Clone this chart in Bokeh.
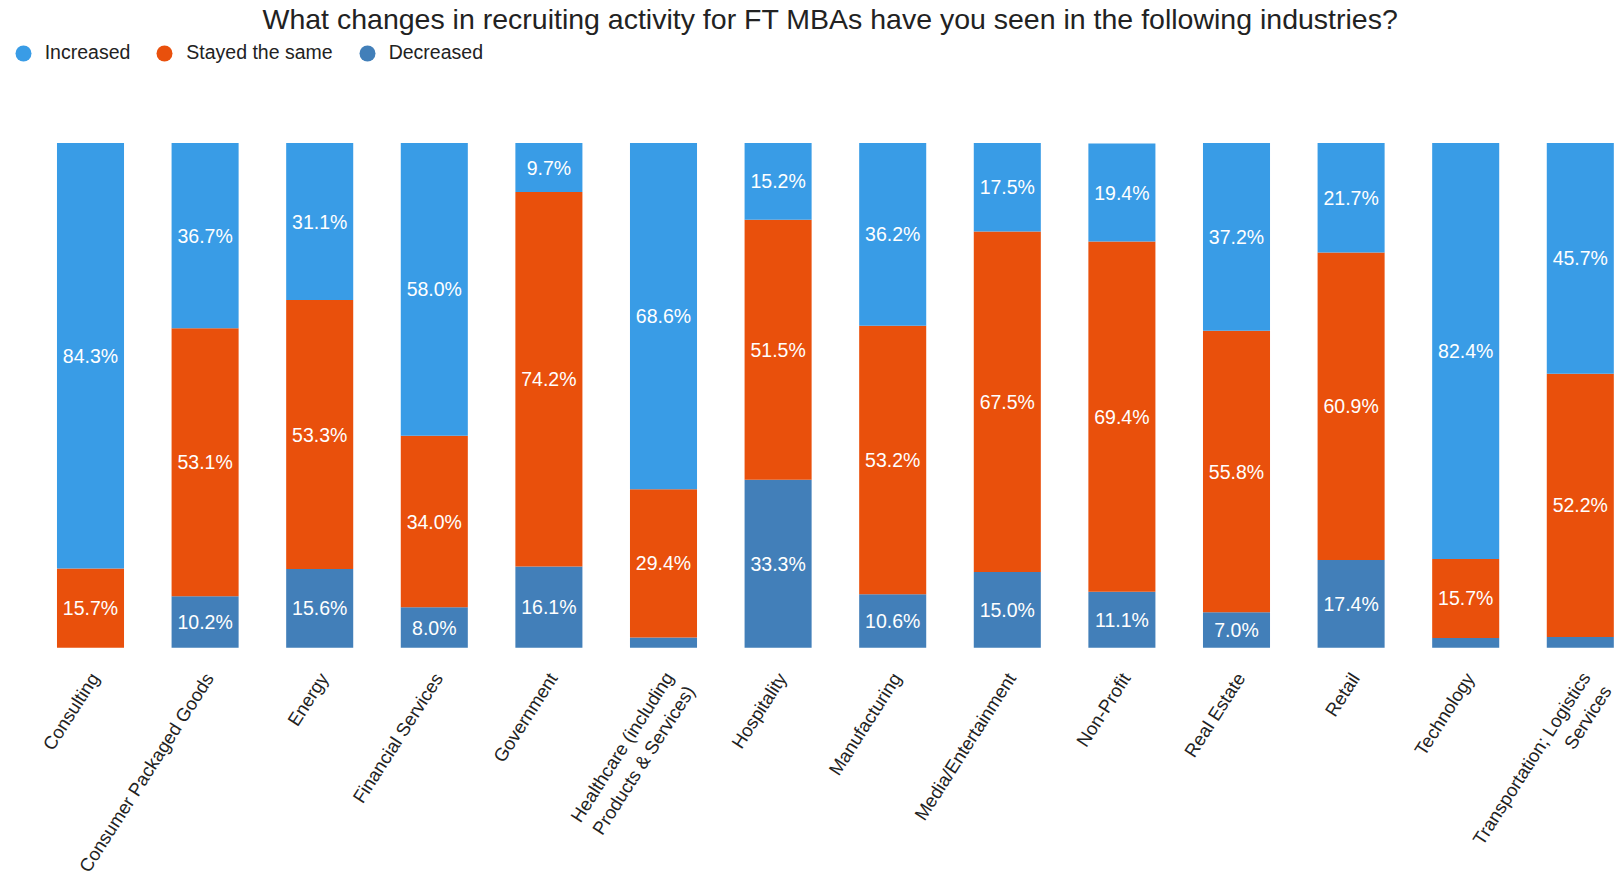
from bokeh.plotting import figure
from bokeh.models import ColumnDataSource, Range1d, Legend, LegendItem
from bokeh.core.properties import value
from bokeh.embed import file_html
from bokeh.resources import INLINE

industries = [
    "Consulting", "Consumer Packaged Goods", "Energy", "Financial Services",
    "Government", "Healthcare (including\nProducts & Services)", "Hospitality",
    "Manufacturing", "Media/Entertainment", "Non-Profit", "Real Estate",
    "Retail", "Technology", "Transportation; Logistics\nServices",
]
increased = [84.3, 36.7, 31.1, 58.0, 9.7, 68.6, 15.2, 36.2, 17.5, 19.4, 37.2, 21.7, 82.4, 45.7]
stayed = [15.7, 53.1, 53.3, 34.0, 74.2, 29.4, 51.5, 53.2, 67.5, 69.4, 55.8, 60.9, 15.7, 52.2]
decreased = [0.0, 10.2, 15.6, 8.0, 16.1, 2.0, 33.3, 10.6, 15.0, 11.1, 7.0, 17.4, 1.9, 2.1]
series_names = ["Increased", "Stayed the same", "Decreased"]
series_colors = ["#399CE6", "#E9500C", "#427FB9"]

FONT = "Liberation Sans"
xs = list(range(len(industries)))

# two-line category labels hang a half line further down-right
xoff = [16 if "\n" in s else 4 for s in industries]
yoff = [33 if "\n" in s else 27 for s in industries]

src = ColumnDataSource(dict(x=xs, decreased=decreased, stayed=stayed, increased=increased,
                            base=[0] * len(xs), name=industries, xoff=xoff, yoff=yoff))

# label positions (centre of each segment), shown only for segments large enough
lx, ly, lt = [], [], []
for i in xs:
    d, s, n = decreased[i], stayed[i], increased[i]
    for v, mid in ((d, d / 2), (s, d + s / 2), (n, d + s + n / 2)):
        if v >= 5:
            lx.append(i)
            ly.append(mid)
            lt.append(f"{v:.1f}%")
lab_src = ColumnDataSource(dict(x=lx, y=ly, t=lt))

FIG_W, FIG_H = 1617, 880
TOP = 33.3          # frame top (below the title panel)
BAR_TOP, BAR_BOT = 142.0, 647.0
ppu = (BAR_BOT - BAR_TOP) / 100.0
y_end = (BAR_BOT - TOP) / ppu
y_start = -(FIG_H - BAR_BOT) / ppu
step = 114.6
x_start = -90.0 / step
x_end = FIG_W / step + x_start

p = figure(
    width=FIG_W, height=FIG_H,
    x_range=Range1d(x_start, x_end),
    y_range=Range1d(y_start, y_end),
    x_axis_location=None, y_axis_location=None,
    output_backend="svg", toolbar_location=None,
    min_border_left=0, min_border_right=0, min_border_top=0, min_border_bottom=0,
)
p.title.text = "What changes in recruiting activity for FT MBAs have you seen in the following industries?"
p.title.text_font = FONT
p.title.text_font_size = "28.5px"
p.title.text_font_style = "normal"
p.title.text_color = "#222222"
p.title.align = "left"
p.title.offset = 262
p.title.standoff = 0

p.vbar_stack(["decreased", "stayed", "increased"], x="x", width=0.585,
             color=[series_colors[2], series_colors[1], series_colors[0]],
             line_color=None, source=src)

p.text(x="x", y="y", text="t", source=lab_src, text_align="center",
       text_baseline="middle", text_color="white",
       text_font=value(FONT), text_font_size="19.5px")

# category labels (rotated), hanging below the bars
p.text(x="x", y="base", text="name", source=src, angle=1.0,
       text_align="right", text_baseline="middle", x_offset="xoff", y_offset="yoff",
       text_color="#222222", text_font=value(FONT), text_font_size="18.5px")

# legend markers (hidden renderers, shown only as circles in the legend)
items = []
for name, col, field in zip(series_names, series_colors, ["increased", "stayed", "decreased"]):
    r = p.scatter(x="x", y=field, source=src, marker="circle", size=16,
                  fill_color=col, line_color=None, visible=False)
    items.append(LegendItem(label=name, renderers=[r]))
leg_h = 40
vy = FIG_H - (52.5 - leg_h / 2) - leg_h
legend = Legend(items=items, orientation="horizontal", location=(2.7, vy),
                label_text_font=FONT, label_text_font_size="19.5px",
                label_text_color="#222222", glyph_width=40, glyph_height=40,
                label_standoff=2, spacing=14, padding=0, margin=0,
                border_line_color=None, background_fill_alpha=0,
                inactive_fill_alpha=0)
p.add_layout(legend)

p.xgrid.grid_line_color = None
p.ygrid.grid_line_color = None
p.outline_line_color = None

open("out.html", "w").write(file_html(p, INLINE))
